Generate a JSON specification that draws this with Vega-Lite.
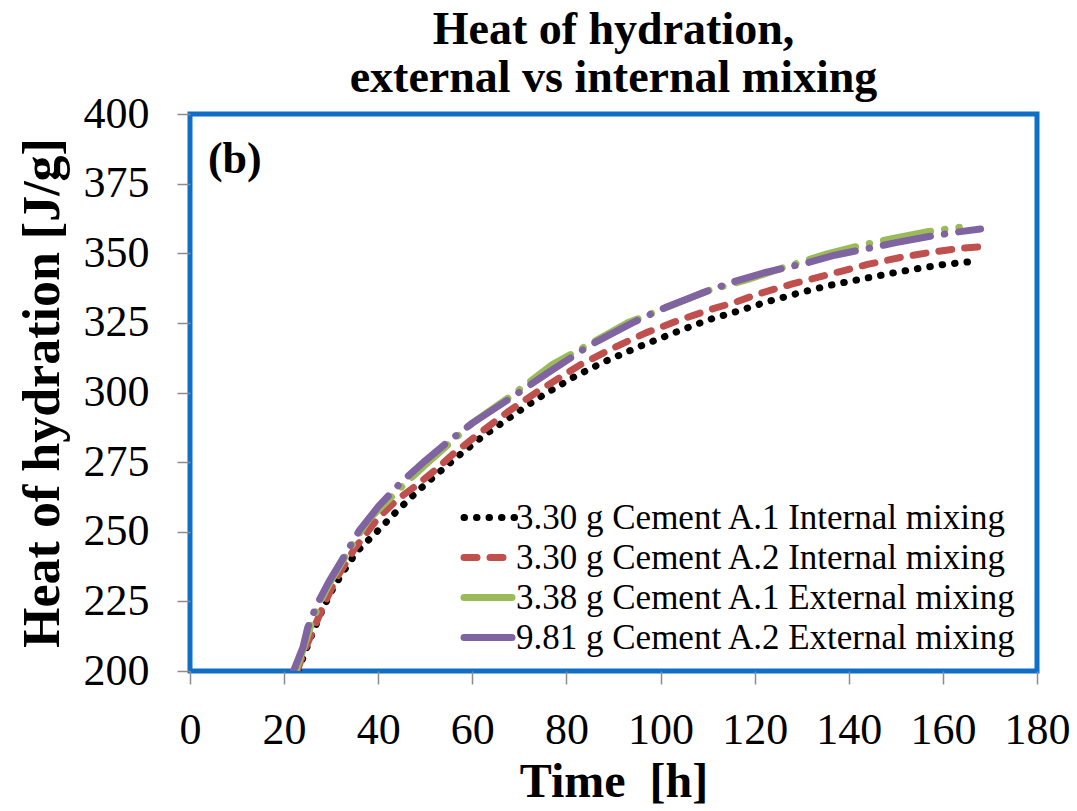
{
  "$schema": "https://vega.github.io/schema/vega-lite/v6.json",
  "width": 847,
  "height": 557,
  "autosize": {"type": "none"},
  "padding": {"left": 190, "top": 114, "right": 40, "bottom": 140},
  "background": "white",
  "title": {
    "text": ["Heat of hydration,", "external vs internal mixing"],
    "font": "Liberation Serif",
    "fontSize": 46,
    "fontWeight": "bold",
    "lineHeight": 48,
    "anchor": "middle",
    "offset": -10,
    "color": "black"
  },
  "config": {
    "view": {"stroke": "#0F6FC6", "strokeWidth": 5},
    "axis": {
      "domain": false,
      "grid": false,
      "tickColor": "#8C8C8C",
      "tickWidth": 1.5,
      "tickSize": 13,
      "labelFont": "Liberation Serif",
      "labelFontSize": 44,
      "labelColor": "black",
      "labelOverlap": false,
      "labelFlush": false,
      "titleFont": "Liberation Serif",
      "titleFontSize": 48,
      "titleFontWeight": "bold",
      "titleColor": "black"
    },
    "legend": {
      "labelFont": "Liberation Serif",
      "labelFontSize": 35,
      "labelColor": "black",
      "labelLimit": 700,
      "padding": 0
    }
  },
  "layer": [
    {
      "data": {
        "values": [
          {"series": "3.30 g Cement A.1 Internal mixing", "t": 23.0, "q": 200.0},
          {"series": "3.30 g Cement A.1 Internal mixing", "t": 24.5, "q": 207.0},
          {"series": "3.30 g Cement A.1 Internal mixing", "t": 26.0, "q": 213.5},
          {"series": "3.30 g Cement A.1 Internal mixing", "t": 28.0, "q": 221.5},
          {"series": "3.30 g Cement A.1 Internal mixing", "t": 30.0, "q": 228.5},
          {"series": "3.30 g Cement A.1 Internal mixing", "t": 32.5, "q": 235.5},
          {"series": "3.30 g Cement A.1 Internal mixing", "t": 35.5, "q": 243.0},
          {"series": "3.30 g Cement A.1 Internal mixing", "t": 40.0, "q": 250.5},
          {"series": "3.30 g Cement A.1 Internal mixing", "t": 44.0, "q": 257.5},
          {"series": "3.30 g Cement A.1 Internal mixing", "t": 48.0, "q": 264.0},
          {"series": "3.30 g Cement A.1 Internal mixing", "t": 52.0, "q": 270.0},
          {"series": "3.30 g Cement A.1 Internal mixing", "t": 56.5, "q": 276.5},
          {"series": "3.30 g Cement A.1 Internal mixing", "t": 62.0, "q": 284.0},
          {"series": "3.30 g Cement A.1 Internal mixing", "t": 67.5, "q": 290.5},
          {"series": "3.30 g Cement A.1 Internal mixing", "t": 74.0, "q": 298.0},
          {"series": "3.30 g Cement A.1 Internal mixing", "t": 81.5, "q": 305.5},
          {"series": "3.30 g Cement A.1 Internal mixing", "t": 88.0, "q": 311.0},
          {"series": "3.30 g Cement A.1 Internal mixing", "t": 95.5, "q": 316.5},
          {"series": "3.30 g Cement A.1 Internal mixing", "t": 103.0, "q": 321.5},
          {"series": "3.30 g Cement A.1 Internal mixing", "t": 110.0, "q": 326.0},
          {"series": "3.30 g Cement A.1 Internal mixing", "t": 116.0, "q": 329.0},
          {"series": "3.30 g Cement A.1 Internal mixing", "t": 122.5, "q": 332.5},
          {"series": "3.30 g Cement A.1 Internal mixing", "t": 130.0, "q": 336.0},
          {"series": "3.30 g Cement A.1 Internal mixing", "t": 136.0, "q": 338.5},
          {"series": "3.30 g Cement A.1 Internal mixing", "t": 142.0, "q": 340.5},
          {"series": "3.30 g Cement A.1 Internal mixing", "t": 149.0, "q": 342.8},
          {"series": "3.30 g Cement A.1 Internal mixing", "t": 155.0, "q": 344.6},
          {"series": "3.30 g Cement A.1 Internal mixing", "t": 160.0, "q": 345.9},
          {"series": "3.30 g Cement A.1 Internal mixing", "t": 166.0, "q": 347.0},

          {"series": "3.30 g Cement A.2 Internal mixing", "t": 22.8, "q": 200.0},
          {"series": "3.30 g Cement A.2 Internal mixing", "t": 24.0, "q": 206.0},
          {"series": "3.30 g Cement A.2 Internal mixing", "t": 25.5, "q": 212.0},
          {"series": "3.30 g Cement A.2 Internal mixing", "t": 28.0, "q": 222.0},
          {"series": "3.30 g Cement A.2 Internal mixing", "t": 31.0, "q": 233.0},
          {"series": "3.30 g Cement A.2 Internal mixing", "t": 35.0, "q": 244.0},
          {"series": "3.30 g Cement A.2 Internal mixing", "t": 40.0, "q": 255.0},
          {"series": "3.30 g Cement A.2 Internal mixing", "t": 44.0, "q": 261.5},
          {"series": "3.30 g Cement A.2 Internal mixing", "t": 48.0, "q": 266.5},
          {"series": "3.30 g Cement A.2 Internal mixing", "t": 52.0, "q": 272.0},
          {"series": "3.30 g Cement A.2 Internal mixing", "t": 56.0, "q": 278.0},
          {"series": "3.30 g Cement A.2 Internal mixing", "t": 62.0, "q": 286.0},
          {"series": "3.30 g Cement A.2 Internal mixing", "t": 67.5, "q": 293.0},
          {"series": "3.30 g Cement A.2 Internal mixing", "t": 74.0, "q": 300.5},
          {"series": "3.30 g Cement A.2 Internal mixing", "t": 83.0, "q": 310.0},
          {"series": "3.30 g Cement A.2 Internal mixing", "t": 90.0, "q": 316.0},
          {"series": "3.30 g Cement A.2 Internal mixing", "t": 97.0, "q": 321.5},
          {"series": "3.30 g Cement A.2 Internal mixing", "t": 104.0, "q": 326.0},
          {"series": "3.30 g Cement A.2 Internal mixing", "t": 111.0, "q": 330.0},
          {"series": "3.30 g Cement A.2 Internal mixing", "t": 116.0, "q": 332.5},
          {"series": "3.30 g Cement A.2 Internal mixing", "t": 121.0, "q": 335.5},
          {"series": "3.30 g Cement A.2 Internal mixing", "t": 128.0, "q": 339.0},
          {"series": "3.30 g Cement A.2 Internal mixing", "t": 136.0, "q": 342.5},
          {"series": "3.30 g Cement A.2 Internal mixing", "t": 144.0, "q": 346.0},
          {"series": "3.30 g Cement A.2 Internal mixing", "t": 151.0, "q": 348.5},
          {"series": "3.30 g Cement A.2 Internal mixing", "t": 158.0, "q": 350.5},
          {"series": "3.30 g Cement A.2 Internal mixing", "t": 164.0, "q": 351.8},
          {"series": "3.30 g Cement A.2 Internal mixing", "t": 168.0, "q": 352.3},

          {"series": "3.38 g Cement A.1 External mixing", "t": 22.5, "q": 200.0},
          {"series": "3.38 g Cement A.1 External mixing", "t": 24.0, "q": 207.5},
          {"series": "3.38 g Cement A.1 External mixing", "t": 26.0, "q": 218.0},
          {"series": "3.38 g Cement A.1 External mixing", "t": 28.0, "q": 226.0},
          {"series": "3.38 g Cement A.1 External mixing", "t": 30.0, "q": 232.5},
          {"series": "3.38 g Cement A.1 External mixing", "t": 34.0, "q": 244.0},
          {"series": "3.38 g Cement A.1 External mixing", "t": 38.0, "q": 254.5},
          {"series": "3.38 g Cement A.1 External mixing", "t": 44.6, "q": 265.5},
          {"series": "3.38 g Cement A.1 External mixing", "t": 50.0, "q": 274.0},
          {"series": "3.38 g Cement A.1 External mixing", "t": 55.0, "q": 281.5},
          {"series": "3.38 g Cement A.1 External mixing", "t": 60.0, "q": 289.0},
          {"series": "3.38 g Cement A.1 External mixing", "t": 68.0, "q": 298.5},
          {"series": "3.38 g Cement A.1 External mixing", "t": 77.0, "q": 310.0},
          {"series": "3.38 g Cement A.1 External mixing", "t": 85.0, "q": 317.5},
          {"series": "3.38 g Cement A.1 External mixing", "t": 93.0, "q": 325.0},
          {"series": "3.38 g Cement A.1 External mixing", "t": 102.6, "q": 331.4},
          {"series": "3.38 g Cement A.1 External mixing", "t": 110.0, "q": 336.5},
          {"series": "3.38 g Cement A.1 External mixing", "t": 118.4, "q": 340.5},
          {"series": "3.38 g Cement A.1 External mixing", "t": 126.0, "q": 344.8},
          {"series": "3.38 g Cement A.1 External mixing", "t": 135.4, "q": 349.8},
          {"series": "3.38 g Cement A.1 External mixing", "t": 143.0, "q": 353.0},
          {"series": "3.38 g Cement A.1 External mixing", "t": 150.0, "q": 355.5},
          {"series": "3.38 g Cement A.1 External mixing", "t": 157.0, "q": 357.8},
          {"series": "3.38 g Cement A.1 External mixing", "t": 163.5, "q": 359.3},

          {"series": "9.81 g Cement A.2 External mixing", "t": 22.0, "q": 200.0},
          {"series": "9.81 g Cement A.2 External mixing", "t": 24.0, "q": 208.5},
          {"series": "9.81 g Cement A.2 External mixing", "t": 25.0, "q": 215.5},
          {"series": "9.81 g Cement A.2 External mixing", "t": 27.0, "q": 224.0},
          {"series": "9.81 g Cement A.2 External mixing", "t": 29.5, "q": 232.0},
          {"series": "9.81 g Cement A.2 External mixing", "t": 32.0, "q": 239.0},
          {"series": "9.81 g Cement A.2 External mixing", "t": 36.0, "q": 250.5},
          {"series": "9.81 g Cement A.2 External mixing", "t": 40.0, "q": 259.0},
          {"series": "9.81 g Cement A.2 External mixing", "t": 45.0, "q": 268.0},
          {"series": "9.81 g Cement A.2 External mixing", "t": 50.0, "q": 275.5},
          {"series": "9.81 g Cement A.2 External mixing", "t": 54.6, "q": 282.0},
          {"series": "9.81 g Cement A.2 External mixing", "t": 60.0, "q": 289.0},
          {"series": "9.81 g Cement A.2 External mixing", "t": 68.6, "q": 298.5},
          {"series": "9.81 g Cement A.2 External mixing", "t": 76.0, "q": 307.0},
          {"series": "9.81 g Cement A.2 External mixing", "t": 85.0, "q": 317.0},
          {"series": "9.81 g Cement A.2 External mixing", "t": 94.0, "q": 325.0},
          {"series": "9.81 g Cement A.2 External mixing", "t": 101.0, "q": 330.5},
          {"series": "9.81 g Cement A.2 External mixing", "t": 108.5, "q": 335.5},
          {"series": "9.81 g Cement A.2 External mixing", "t": 115.0, "q": 339.5},
          {"series": "9.81 g Cement A.2 External mixing", "t": 122.0, "q": 343.0},
          {"series": "9.81 g Cement A.2 External mixing", "t": 131.0, "q": 346.5},
          {"series": "9.81 g Cement A.2 External mixing", "t": 137.0, "q": 349.3},
          {"series": "9.81 g Cement A.2 External mixing", "t": 142.5, "q": 351.2},
          {"series": "9.81 g Cement A.2 External mixing", "t": 150.0, "q": 353.8},
          {"series": "9.81 g Cement A.2 External mixing", "t": 157.0, "q": 356.0},
          {"series": "9.81 g Cement A.2 External mixing", "t": 163.0, "q": 357.6},
          {"series": "9.81 g Cement A.2 External mixing", "t": 168.0, "q": 358.7}
        ]
      },
      "mark": {"type": "line", "strokeCap": "round", "strokeJoin": "round", "clip": true},
      "encoding": {
        "x": {
          "field": "t",
          "type": "quantitative",
          "title": "Time\u00a0 [h]",
          "scale": {"domain": [0, 180], "nice": false},
          "axis": {"values": [0, 20, 40, 60, 80, 100, 120, 140, 160, 180], "labelPadding": 24, "titlePadding": 6}
        },
        "y": {
          "field": "q",
          "type": "quantitative",
          "title": "Heat of hydration [J/g]",
          "scale": {"domain": [200, 400], "nice": false, "zero": false},
          "axis": {"values": [200, 225, 250, 275, 300, 325, 350, 375, 400], "labelPadding": 28, "titlePadding": 14, "titleFontSize": 52}
        },
        "color": {
          "field": "series",
          "type": "nominal",
          "scale": {
            "domain": [
              "3.30 g Cement A.1 Internal mixing",
              "3.30 g Cement A.2 Internal mixing",
              "3.38 g Cement A.1 External mixing",
              "9.81 g Cement A.2 External mixing"
            ],
            "range": ["#000000", "#C0504D", "#9BBB59", "#8064A2"]
          },
          "legend": {
            "title": null,
            "orient": "none",
            "legendX": 282,
            "legendY": 386,
            "symbolType": "M-2,0H2",
            "symbolSize": 650,
            "symbolStrokeWidth": 7,
            "rowPadding": 4,
            "labelOffset": 9,
            "encode": {"symbols": {"update": {"strokeCap": {"value": "round"}}}}
          }
        },
        "strokeDash": {
          "field": "series",
          "type": "nominal",
          "scale": {
            "domain": [
              "3.30 g Cement A.1 Internal mixing",
              "3.30 g Cement A.2 Internal mixing",
              "3.38 g Cement A.1 External mixing",
              "9.81 g Cement A.2 External mixing"
            ],
            "range": [[0.5, 12], [13, 13], [48, 14, 0.5, 14], [48, 14, 0.5, 14]]
          },
          "legend": {
            "title": null,
            "orient": "none",
            "legendX": 282,
            "legendY": 386,
            "symbolType": "M-2,0H2",
            "symbolSize": 650,
            "symbolStrokeWidth": 7,
            "rowPadding": 4,
            "labelOffset": 9,
            "encode": {"symbols": {"update": {"strokeCap": {"value": "round"}}}}
          }
        },
        "strokeWidth": {
          "field": "series",
          "type": "nominal",
          "scale": {
            "domain": [
              "3.30 g Cement A.1 Internal mixing",
              "3.30 g Cement A.2 Internal mixing",
              "3.38 g Cement A.1 External mixing",
              "9.81 g Cement A.2 External mixing"
            ],
            "range": [7, 7, 8, 8]
          },
          "legend": null
        }
      }
    },
    {
      "data": {"values": [{"label": "(b)", "t": 3.8, "q": 383.5}]},
      "mark": {
        "type": "text",
        "align": "left",
        "baseline": "middle",
        "font": "Liberation Serif",
        "fontSize": 44,
        "fontWeight": "bold",
        "color": "black"
      },
      "encoding": {
        "x": {"field": "t", "type": "quantitative"},
        "y": {"field": "q", "type": "quantitative"},
        "text": {"field": "label"}
      }
    }
  ]
}
